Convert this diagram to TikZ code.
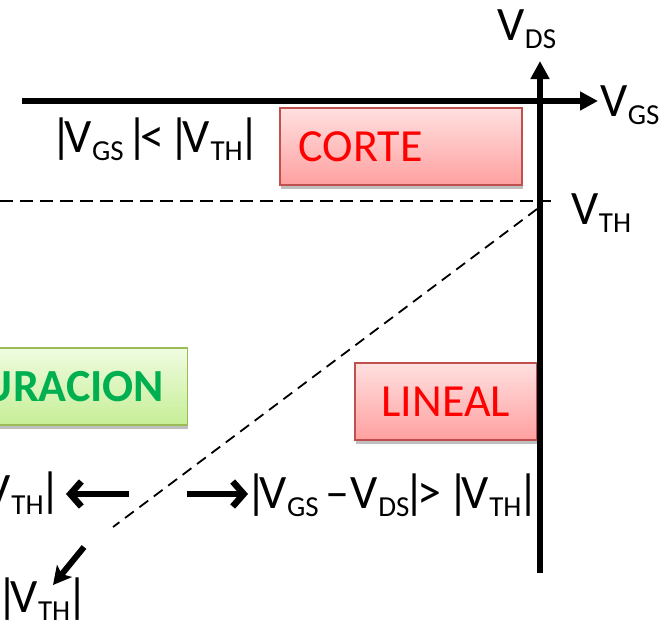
\documentclass[tikz,border=0pt]{standalone}
\usepackage{fontspec}
\setmainfont{Carlito}
\usetikzlibrary{arrows.meta,shadows}
\definecolor{boxred}{RGB}{192,80,77}
\definecolor{redtop}{RGB}{255,224,224}
\definecolor{redbot}{RGB}{255,160,160}
\definecolor{boxgreen}{RGB}{155,187,89}
\definecolor{greentop}{RGB}{240,252,225}
\definecolor{greenbot}{RGB}{198,238,150}
\definecolor{txtgreen}{RGB}{0,176,80}
\newcommand\Vsub[1]{V\kern0.5pt\raisebox{-8pt}{\fontsize{29}{29}\selectfont #1}}
\newcommand\bb{\kern-7pt|\kern-8pt}
\begin{document}
\begin{tikzpicture}[x=1pt,y=-1pt,
  lbl/.style={font=\fontsize{48}{50}\selectfont, inner sep=0pt},
  regionbox/.style={draw=boxred, line width=1.5pt, shading=axis, top color=redtop, bottom color=redbot,
     drop shadow={shadow xshift=1pt, shadow yshift=-4pt, opacity=0.25, fill=black},
     font=\fontsize{46}{48}\selectfont, text=red},
  greenbox/.style={draw=boxgreen, line width=1.5pt, shading=axis, top color=greentop, bottom color=greenbot,
     drop shadow={shadow xshift=1pt, shadow yshift=-4pt, opacity=0.25, fill=black},
     font=\fontsize{46}{48}\selectfont\bfseries, text=txtgreen},
  axisline/.style={line width=6.5pt, -{Triangle[length=18pt,width=18pt]}},
  bound/.style={dash pattern=on 13pt off 7pt, line width=2pt},
  movearrow/.style={line width=6.5pt, -{Straight Barb[length=11pt,width=25pt]}},
  diagarrow/.style={line width=6pt, -{Stealth[length=18pt,width=19pt,inset=4pt]}}]
\useasboundingbox (0,0) rectangle (664,627);

% region boxes
\node[regionbox, anchor=north west, minimum height=77pt, text width=204pt, inner xsep=19pt, align=left] (corte) at (279,107) {CORTE};
\node[regionbox, anchor=north west, minimum width=182pt, minimum height=77pt] (lineal) at (354,362) {LINEAL};
\node[greenbox, anchor=north east, minimum height=77pt, text width=220pt, inner xsep=23pt, align=right] (satur) at (188,347) {URACION};

% dashed boundaries
\coordinate (hd0) at (0,201);
\coordinate (hd1) at (551,201);
\draw[bound] (hd0) -- (hd1);
\coordinate (dd0) at (537,209);
\coordinate (dd1) at (113,527);
\draw[dash pattern=on 11pt off 7pt, line width=1.8pt] (dd0) -- (dd1);

% axes
\coordinate (hx0) at (22,101);
\coordinate (hx1) at (598,101);
\draw[axisline] (hx0) -- (hx1);
\coordinate (vx0) at (540,573);
\coordinate (vx1) at (540,61);
\draw[axisline] (vx0) -- (vx1);

% axis labels
\node[lbl, anchor=base west] (vds) at (497,40) {\Vsub{DS}};
\node[lbl, anchor=base west] (vgs) at (600,116) {\Vsub{GS}};
\node[lbl, anchor=base west] (vth) at (571,224) {\Vsub{TH}};

% conditions
\node[lbl, anchor=base west] (ccorte) at (57,152) {\bb\Vsub{GS}\kern10pt\bb<\kern11pt\bb\Vsub{TH}\kern3pt\bb};
\node[lbl, anchor=base west] (clineal) at (252,508) {\bb\Vsub{GS}\kern7pt–\kern1pt\Vsub{DS}\kern1pt\bb>\kern13pt\bb\Vsub{TH}\kern3pt\bb};
\node[lbl, anchor=base east] (csat) at (54,506) {\Vsub{TH}\kern3pt\bb};
\node[lbl, anchor=base west] (cbot) at (3,612) {\bb\Vsub{TH}\kern3pt\bb};

% arrows
\coordinate (la0) at (129,494);
\coordinate (la1) at (66,494);
\draw[movearrow] (la0) -- (la1);
\coordinate (ra0) at (187,494);
\coordinate (ra1) at (248,494);
\draw[movearrow] (ra0) -- (ra1);
\coordinate (da0) at (84,547);
\coordinate (da1) at (53,585);
\draw[diagarrow] (da0) -- (da1);
\end{tikzpicture}
\end{document}
